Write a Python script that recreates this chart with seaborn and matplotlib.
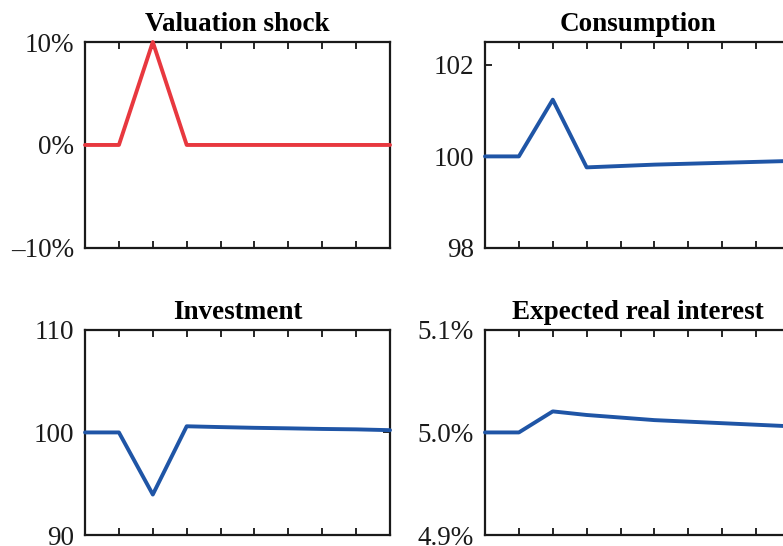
import numpy as np
import pandas as pd
import matplotlib
matplotlib.use("Agg")
import matplotlib.pyplot as plt
import seaborn as sns

# periods shown on the x axis
periods = list(range(10))

# series
valuation_shock = [0, 0, 10, 0, 0, 0, 0, 0, 0, 0]
consumption = [100, 100, 101.24, 99.76, 99.79, 99.82, 99.84, 99.86, 99.88, 99.90]
investment = [100, 100, 93.95, 100.6, 100.52, 100.45, 100.4, 100.34, 100.3, 100.22]
real_interest = [5.0, 5.0, 5.0205, 5.017, 5.0145, 5.012, 5.0105, 5.009, 5.0075, 5.006]

titles = ["Valuation shock", "Consumption", "Investment", "Expected real interest"]
y_limits = [(-10, 10), (98, 102.5), (90, 110), (4.9, 5.1)]
y_ticks = [[-10, 0, 10], [98, 100, 102], [90, 100, 110], [4.9, 5.0, 5.1]]
y_ticklabels = [["\u201310%", "0%", "10%"], ["98", "100", "102"],
                ["90", "100", "110"], ["4.9%", "5.0%", "5.1%"]]

RED = "#E8383F"
BLUE = "#1F55A6"

sns.set_theme(style="ticks")
plt.rcParams["font.family"] = ["Liberation Serif", "DejaVu Serif"]
plt.rcParams["axes.edgecolor"] = "#1a1a1a"
plt.rcParams["axes.linewidth"] = 1.6

fig = plt.figure(figsize=(7.83, 5.46), dpi=100)

# axes boxes in figure fractions; the right column runs past the edge, as in the source
positions = [
    [0.1086, 0.546, 0.3895, 0.377],
    [0.6194, 0.546, 0.3895, 0.377],
    [0.1086, 0.020, 0.3895, 0.376],
    [0.6194, 0.020, 0.3895, 0.376],
]
series = [valuation_shock, consumption, investment, real_interest]
colors = [RED, BLUE, BLUE, BLUE]

for i in range(4):
    ax = fig.add_axes(positions[i])
    df = pd.DataFrame({"t": periods, "v": series[i]})
    sns.lineplot(data=df, x="t", y="v", ax=ax, color=colors[i], linewidth=2.8,
                 clip_on=False, zorder=3)
    ax.set_xlim(0, 9)
    ax.set_ylim(*y_limits[i])
    ax.set_xticks(periods)
    ax.set_xticklabels([])
    ax.set_yticks(y_ticks[i])
    ax.set_yticklabels(y_ticklabels[i], fontsize=19.5, color="#1a1a1a")
    ax.set_xlabel("")
    ax.set_ylabel("")
    ax.tick_params(direction="in", length=5, width=1.4, top=True, right=True,
                   bottom=True, left=True, pad=8)
    for s in ax.spines.values():
        s.set_visible(True)
    ax.set_title(titles[i], fontsize=19.5, fontweight="bold", pad=8, color="black")

fig.savefig("out.png", dpi=100)
